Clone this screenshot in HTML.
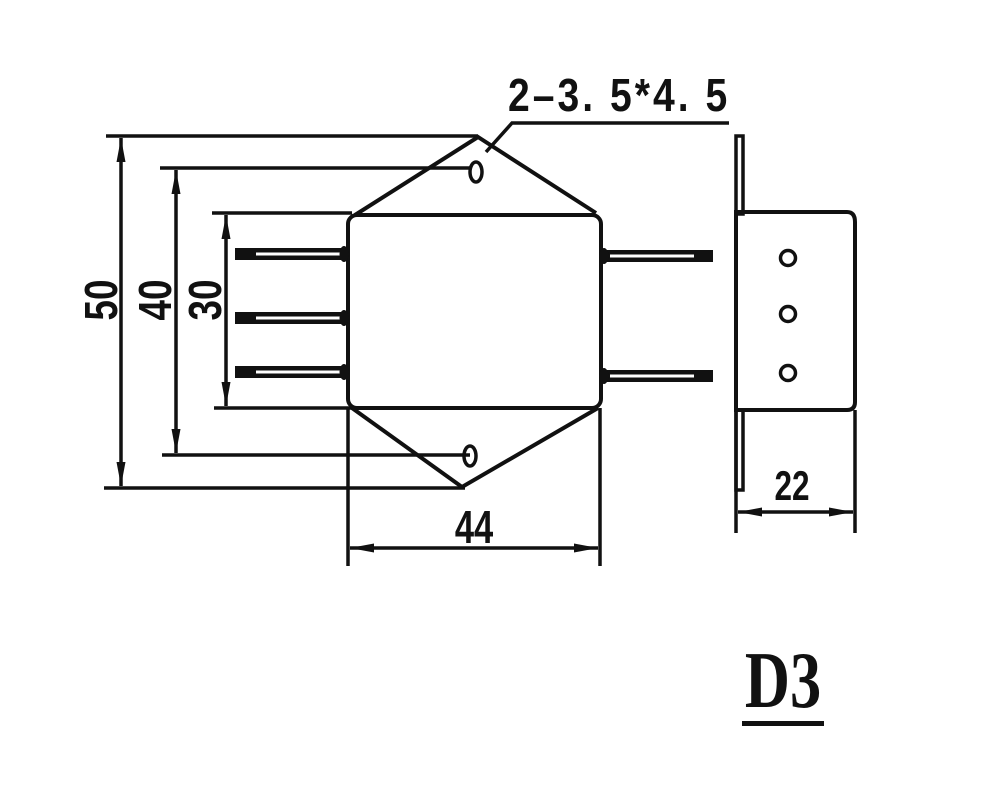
<!DOCTYPE html>
<html><head><style>html,body{margin:0;padding:0;background:#fff}svg{display:block}</style></head>
<body>
<svg width="1000" height="792" viewBox="0 0 1000 792" xmlns="http://www.w3.org/2000/svg">
<defs>
<marker id="a" viewBox="0 0 24 10" refX="24" refY="5" markerWidth="24" markerHeight="10" markerUnits="userSpaceOnUse" orient="auto-start-reverse"><path d="M0,0.5 L24,5 L0,9.5 Z" fill="#111"/></marker>
</defs>
<g stroke="#111" fill="none" stroke-width="3.5">
<line x1="106" y1="136" x2="478" y2="136"/>
<line x1="104" y1="488" x2="465" y2="488"/>
<line x1="160" y1="168" x2="470" y2="168"/>
<line x1="162" y1="455" x2="470" y2="455"/>
<line x1="212" y1="213" x2="352" y2="213"/>
<line x1="214" y1="408" x2="352" y2="408"/>
<line x1="121" y1="138" x2="121" y2="486" marker-start="url(#a)" marker-end="url(#a)"/>
<line x1="176" y1="170" x2="176" y2="453" marker-start="url(#a)" marker-end="url(#a)"/>
<line x1="226" y1="215" x2="226" y2="406" marker-start="url(#a)" marker-end="url(#a)"/>
<rect x="348" y="215" width="253" height="193" rx="9" stroke-width="4"/>
<polyline points="355,215 478,137 596,213" stroke-width="4"/>
<polyline points="352,408 462,487 598,408" stroke-width="4"/>
<ellipse cx="476" cy="172" rx="6" ry="10"/>
<ellipse cx="470" cy="456" rx="6" ry="10"/>
<polyline points="486,152 512,123 729,123"/>
<line x1="348" y1="408" x2="348" y2="566"/>
<line x1="600" y1="408" x2="600" y2="566"/>
<line x1="350" y1="548" x2="598" y2="548" marker-start="url(#a)" marker-end="url(#a)"/>
<rect x="736" y="136" width="7" height="78"/>
<rect x="736" y="410" width="7" height="80"/>
<path d="M736,212 H847 Q855,212 855,222 V402 Q855,410 847,410 H736 Z" stroke-width="4"/>
<circle cx="788" cy="258" r="7.5"/>
<circle cx="788" cy="314" r="7.5"/>
<circle cx="788" cy="373" r="7.5"/>
<line x1="736" y1="410" x2="736" y2="533"/>
<line x1="855" y1="410" x2="855" y2="533"/>
<line x1="738" y1="512" x2="853" y2="512" marker-start="url(#a)" marker-end="url(#a)"/>
</g>
<g>
<g id="pl">
<rect x="235" y="248" width="18" height="12" fill="#111"/>
<rect x="252" y="248" width="93" height="12" fill="#111"/>
<rect x="256" y="252.5" width="84" height="3" fill="#fff"/>
<ellipse cx="344" cy="254" rx="4.5" ry="8" fill="#111"/>
</g>
<use href="#pl" transform="translate(0,64)"/>
<use href="#pl" transform="translate(0,118)"/>
<g id="pr">
<rect x="603" y="250" width="110" height="12" fill="#111"/>
<rect x="610" y="254.5" width="84" height="3" fill="#fff"/>
<ellipse cx="604" cy="256" rx="4.5" ry="8" fill="#111"/>
</g>
<use href="#pr" transform="translate(0,120)"/>
</g>
<g font-family="Liberation Sans, sans-serif" fill="#111" font-weight="bold">
<text x="0" y="0" font-size="46" transform="translate(117,300) rotate(-90) scale(0.8,1)" text-anchor="middle">50</text>
<text x="0" y="0" font-size="46" transform="translate(171,300) rotate(-90) scale(0.8,1)" text-anchor="middle">40</text>
<text x="0" y="0" font-size="46" transform="translate(221,300) rotate(-90) scale(0.8,1)" text-anchor="middle">30</text>
<text x="0" y="0" font-size="46" transform="translate(474,543) scale(0.75,1)" text-anchor="middle">44</text>
<text x="0" y="0" font-size="42" transform="translate(792,500) scale(0.75,1)" text-anchor="middle">22</text>
<text x="0" y="0" font-size="46" transform="translate(508,111) scale(0.85,1)" textLength="258" lengthAdjust="spacing">2–3. 5*4. 5</text>
</g>
<text x="0" y="0" font-family="Liberation Serif, serif" font-weight="bold" font-size="80" fill="#111" transform="translate(783,707) scale(0.78,1)" text-anchor="middle">D3</text>
<rect x="742" y="721" width="82" height="5" fill="#111"/>
</svg>
</body></html>
